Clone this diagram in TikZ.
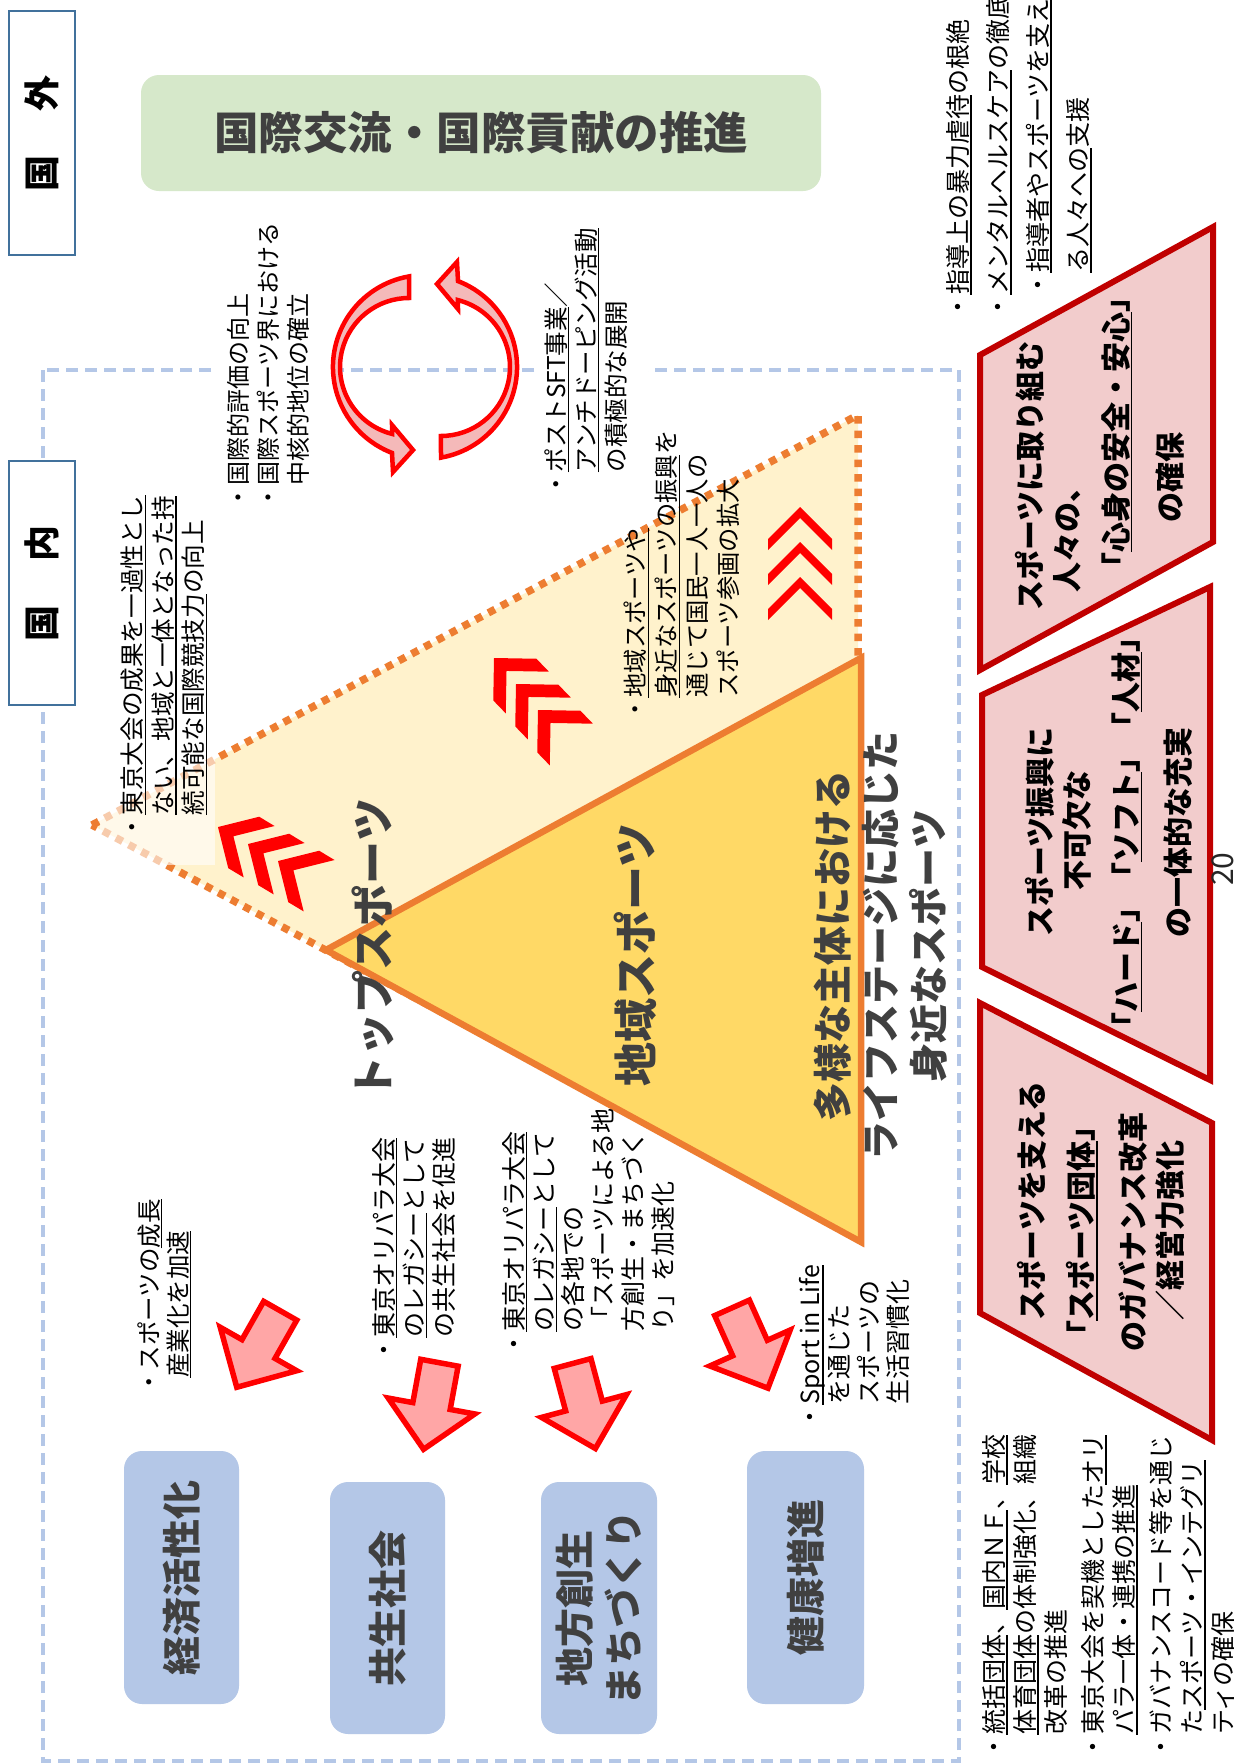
\documentclass[tikz,border=0pt]{standalone}
\usepackage{fontspec}
\setmainfont{Noto Sans CJK JP}
\usetikzlibrary{calc}
\newcommand\setfs[2]{\fontsize{#1}{#2}\selectfont}
\newcommand\uln[1]{\begingroup\setbox0\hbox{#1}\rlap{\rule[-0.17em]{\wd0}{1.4pt}}\box0\endgroup}
\definecolor{orangeT}{HTML}{ED7D31}
\definecolor{creamT}{HTML}{FFF2CC}
\definecolor{goldT}{HTML}{FFD966}
\definecolor{greenBox}{HTML}{D6E8CA}
\definecolor{blueBox}{HTML}{B4C7E7}
\definecolor{dashBlue}{HTML}{B4C7E7}
\definecolor{pinkFill}{HTML}{F2CCCC}
\definecolor{darkRed}{HTML}{C00000}
\definecolor{frameBlue}{HTML}{41719C}
\definecolor{titleGray}{HTML}{404040}
\definecolor{arrowPink}{HTML}{FFA6A6}
\definecolor{circPink}{HTML}{F4B9B9}
\definecolor{chevRed}{HTML}{FF0000}
\begin{document}
\begin{tikzpicture}[x=1pt,y=-1pt,
  vt/.style={rotate=90, inner sep=0pt, anchor=north west, align=left, text=black},
  ttl/.style={rotate=90, inner sep=0pt, align=center, text=titleGray},
  ptxt/.style={rotate=90, inner sep=0pt, text=black, font=\setfs{30}{36}\bfseries},
  frame/.style={rotate=90, draw=frameBlue, line width=2.5pt, fill=white, minimum width=244pt, minimum height=66pt, inner sep=0pt, font=\setfs{36}{40}\bfseries},
  bbox/.style={rotate=90, fill=blueBox, rounded corners=18pt, inner sep=0pt, text=titleGray, font=\setfs{39}{49}\bfseries, align=center},
  pbox/.style={draw=darkRed, line width=6pt, fill=pinkFill, line join=miter},
  circarr/.style={draw=red, line width=4.5pt, fill=circPink, line join=miter},
  chevA/.pic={\fill[chevRed] (-32,32) -- (0,0) -- (32,32) -- (32,43) -- (0,11) -- (-32,43) -- cycle;},
  chevB/.pic={\fill[chevRed] (-30,30) -- (0,0) -- (30,30) -- (30,48) -- (0,18) -- (-30,48) -- cycle;},
  blockarr/.pic={\draw[draw=red, line width=5.5pt, fill=arrowPink, line join=miter] (-44,-19) -- (0,-19) -- (0,-44) -- (44,0) -- (0,44) -- (0,19) -- (-44,19) -- cycle;}
]
\useasboundingbox (0,0) rectangle (1234,1764);
\fill[white] (0,0) rectangle (1234,1764);

% domestic area
\draw[dashBlue, line width=3.5pt, dash pattern=on 12pt off 7pt] (43,370) rectangle (959,1761);
\fill[white] (213,355) rectangle (333,385);
\fill[white] (540,355) rectangle (648,385);

% international box
\node[fill=greenBox, rounded corners=18pt, minimum width=680pt, minimum height=116pt, inner sep=0pt, text=titleGray, font=\setfs{44.5}{50}\bfseries] (intl) at (481,133) {国際交流・国際貢献の推進};

% outer (top sports) triangle
\fill[creamT] (92,825) -- (858,415) -- (858,1235) -- cycle;
\draw[orangeT, line width=7.5pt, dash pattern=on 7.5pt off 7pt] (92,825) -- (858,415) -- (858,1235) -- cycle;
\fill[white, opacity=0.6] (100,470) rectangle (215,865);

% inner (regional sports) triangle
\draw[orangeT, line width=6.5pt, fill=goldT, line join=miter] (326,950) -- (861,658) -- (861,1242) -- cycle;

% chevrons
\pic at (800,507) {chevA};
\pic at (800,542) {chevA};
\pic at (800,577) {chevA};
\pic[rotate=59] at (218,827) {chevB};
\pic[rotate=59] at (248,844) {chevB};
\pic[rotate=59] at (278,861) {chevB};
\pic[rotate=44] at (494,658) {chevB};
\pic[rotate=44] at (516,684) {chevB};
\pic[rotate=44] at (538,710) {chevB};

% triangle titles
\node[ttl, font=\setfs{43}{48}\bfseries] (topsp) at (373,949) {トップスポーツ};
\node[ttl, font=\setfs{44}{48}\bfseries] (locsp) at (635,955) {地域スポーツ};
\node[ttl, font=\setfs{39}{48}\bfseries] (basesp) at (881,946) {多様な主体における\\ライフステージに応じた\\身近なスポーツ};

% circular arrows
\coordinate (cc) at (425,367);
\path[circarr] (409,276.4) arc[start angle=260, end angle=111, radius=92] -- (393,472) -- (413,450) -- (392,425) -- (392.1,433.9) arc[start angle=104.2, end angle=270, radius=69] -- cycle;
\begin{scope}[rotate around={180:(cc)}]
\path[circarr] (409,276.4) arc[start angle=260, end angle=111, radius=92] -- (393,472) -- (413,450) -- (392,425) -- (392.1,433.9) arc[start angle=104.2, end angle=270, radius=69] -- cycle;
\end{scope}

% text blocks
\node[vt, font=\setfs{24}{30}] (tintl) at (227,510) {・国際的評価の向上\\・国際スポーツ界における\\　中核的地位の確立};
\node[vt, font=\setfs{24.6}{30.5}] (tlegacy) at (121,840) {・\uln{東京大会の成果を一過性とし}\\　\uln{ない、地域と一体となった持}\\　\uln{続可能な国際競技力}の向上};
\node[vt, font=\setfs{24.5}{30}] (tsft) at (544,497) {・\uln{ポストSFT事業}／\\　\uln{アンチドーピング活動}\\　の積極的な展開};
\node[vt, font=\setfs{24.3}{31}] (tlocal) at (624,722) {・\uln{地域スポーツや}\\　\uln{身近なスポーツの振興}を\\　通じて国民一人一人の\\　スポーツ参画の拡大};
\node[vt, font=\setfs{25}{40}] (tsafe1) at (946,320) {・\uln{指導上の暴力虐待}の根絶\\・\uln{メンタルヘルスケア}の徹底};
\node[vt, font=\setfs{25}{40}] (tsafe2) at (1026,298) {・\uln{指導者やスポーツを支え}\\　\uln{る人々への}支援};
\node[vt, font=\setfs{25}{31}] (tgov) at (982,1760) {・\uln{統括団体}、\uln{国内ＮＦ}、\uln{学校}\\　\uln{体育団体}の体制強化、組織\\　改革の推進\\[6pt]・東京大会を契機とした\uln{オリ}\\　\uln{パラ一体・連携の推進}\\[6pt]・ガバナンスコード等を通じ\\　た\uln{スポーツ・インテグリ}\\　\uln{ティ}の確保};
\node[vt, font=\setfs{24.5}{29}] (tecon) at (137,1395) {・スポーツの\uln{成長}\\\hspace*{0.7em}\uln{産業化を加速}};
\node[vt, font=\setfs{25}{30}] (tsym) at (372,1363) {・\uln{東京オリパラ大会}\\　\uln{のレガシー}として\\　の共生社会を促進};
\node[vt, font=\setfs{25}{29.8}] (tregion) at (502,1357) {・\uln{東京オリパラ大会}\\　\uln{のレガシー}として\\　の各地での\\　「スポーツによる地\\　方創生・まちづく\\　り」を加速化};
\node[vt, font=\setfs{25}{29.5}] (thealth) at (799,1430) {・\uln{Sport in Life}\\　を通じた\\　スポーツの\\　生活習慣化};

% red block arrows
\pic[rotate=-119.6] at (258.5,1349) {blockarr};
\pic[rotate=-100.4] at (431.5,1406) {blockarr};
\pic[rotate=-75] at (584,1406) {blockarr};
\pic[rotate=-65.9] at (750,1348) {blockarr};

% outcome boxes
\node[bbox, minimum width=253pt, minimum height=115pt] (econ) at (181.5,1577.5) {経済活性化};
\node[bbox, minimum width=252pt, minimum height=115pt] (symb) at (387.5,1608) {共生社会};
\node[bbox, minimum width=252pt, minimum height=116pt] (region) at (599,1608) {地方創生\\まちづくり};
\node[bbox, minimum width=253pt, minimum height=117pt] (health) at (805.5,1577.5) {健康増進};

% right-hand boxes
\draw[pbox] (980,355) -- (1213,227) -- (1213,542) -- (980,670) -- cycle;
\draw[pbox] (982,695) -- (1210,587) -- (1210,1080) -- (982,967) -- cycle;
\draw[pbox] (980,1003) -- (1212,1123) -- (1212,1440) -- (980,1313) -- cycle;

\node[ptxt] (p1a) at (1030,476) {スポーツに取り組む};
\node[ptxt] (p1b) at (1067,532) {人々の、};
\node[ptxt] (p1c) at (1117,432) {「\uln{心身の安全・安心}」};
\node[ptxt] (p1d) at (1170,477) {の確保};

\node[ptxt] (p2a) at (1040,832) {スポーツ振興に};
\node[ptxt] (p2b) at (1077,830) {不可欠な};
\node[ptxt] (p2c) at (1127,832) {「\uln{ハード}」「\uln{ソフト}」「\uln{人材}」};
\node[ptxt] (p2d) at (1178,832) {の一体的な充実};

\node[ptxt] (p3a) at (1032,1201) {スポーツを支える};
\node[ptxt] (p3b) at (1082,1231) {「\uln{スポーツ団体}」};
\node[ptxt] (p3c) at (1133,1232) {のガバナンス改革};
\node[ptxt] (p3d) at (1170,1230) {／経営力強化};

\node[rotate=90, inner sep=0pt, font=\setfs{30}{30}, text=black!85] (pgno) at (1223,869) {20};

% frame labels
\node[frame] (kokugai) at (42,133) {国\hspace{44pt}外};
\node[frame] (kokunai) at (42,583) {国\hspace{44pt}内};
\end{tikzpicture}
\end{document}
